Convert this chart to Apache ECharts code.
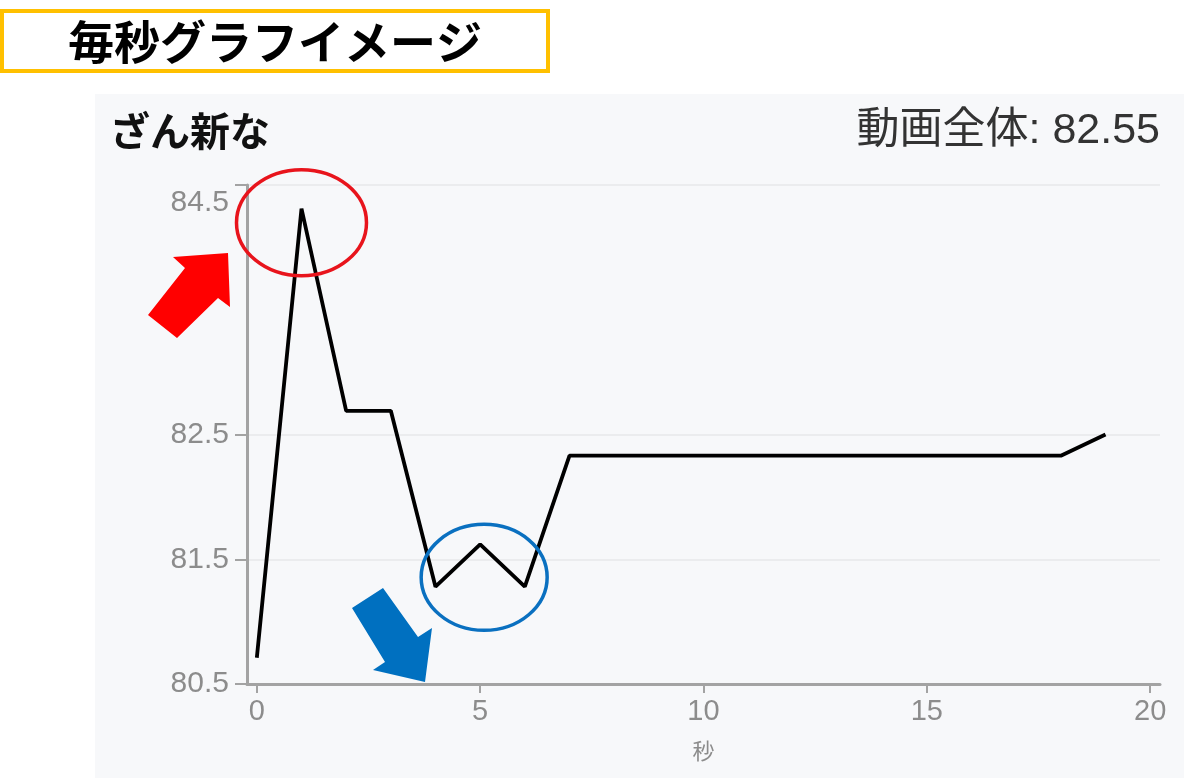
<!DOCTYPE html>
<html>
<head>
<meta charset="utf-8">
<script src="https://cdn.jsdelivr.net/npm/echarts@6/dist/echarts.min.js"></script>
<style>
html,body{margin:0;padding:0;background:#ffffff;}
#c{width:1184px;height:778px;}
</style>
</head>
<body>
<div id="c"></div>
<script>
// ---- data ----
const seconds = [0,1,2,3,4,5,6,7,8,9,10,11,12,13,14,15,16,17,18,19];
const scores  = [80.71,84.31,82.69,82.69,81.28,81.62,81.28,82.33,82.33,82.33,82.33,82.33,82.33,82.33,82.33,82.33,82.33,82.33,82.33,82.5];
const xTicks = [0,5,10,15,20];
const yTicks = [80.5,81.5,82.5,84.5];
const pageTitle = '毎秒グラフイメージ';
const chartTitle = 'ざん新な';
const overallLabel = '動画全体: 82.55';
const xName = '秒';

const chart = echarts.init(document.getElementById('c'));
const axisGray = '#a3a3a3';
const labelGray = '#8c8c8c';

const baseGraphics = [
  {id: 'panel', type: 'rect', z: -10, silent: true, shape: {x: 95, y: 94, width: 1089, height: 684}, style: {fill: '#f7f8fa'}},
  {id: 'titlebox', type: 'rect', shape: {x: 2, y: 11, width: 546, height: 60}, style: {fill: '#ffffff', stroke: '#ffc000', lineWidth: 4}},
  {id: 'titletext', type: 'text', x: 275, y: 42, style: {text: pageTitle, fill: '#000', font: 'bold 46px "Noto Sans CJK JP"', align: 'center', verticalAlign: 'middle'}},
  {id: 'ctitle', type: 'text', x: 110, y: 131, style: {text: chartTitle, fill: '#111', font: 'bold 40px "Noto Sans CJK JP"', align: 'left', verticalAlign: 'middle'}},
  {id: 'overall', type: 'text', x: 1160, y: 131, style: {text: overallLabel, fill: '#333', font: '43px "Liberation Sans", "Noto Sans CJK JP"', align: 'right', verticalAlign: 'middle'}},
  {id: 'redarrow', type: 'polygon', z: 10, shape: {points: [[148,315],[185,268],[173,257],[228,253],[230,307],[218,298],[177,338]]}, style: {fill: '#ff0000'}},
  {id: 'bluearrow', type: 'polygon', z: 10, shape: {points: [[352,608],[383,588],[418,637],[432,628],[425,682],[373,670],[385,662]]}, style: {fill: '#0070c0'}}
];

chart.setOption({
  animation: false,
  backgroundColor: '#ffffff',
  grid: {left: 247, right: 24, top: 185, bottom: 94},
  xAxis: {
    type: 'value', min: -0.22, max: 20.22,
    name: xName, nameLocation: 'middle', nameGap: 56,
    nameTextStyle: {color: labelGray, fontSize: 22, fontFamily: 'Noto Sans CJK JP'},
    axisLine: {show: true, onZero: false, lineStyle: {color: axisGray, width: 3}},
    axisTick: {show: true, length: 9, customValues: xTicks, lineStyle: {color: axisGray, width: 2}},
    axisLabel: {customValues: xTicks, color: labelGray, fontSize: 29, margin: 13, fontFamily: 'Liberation Sans, Noto Sans CJK JP'},
    splitLine: {show: false}
  },
  yAxis: {
    type: 'value', min: 80.5, max: 84.5,
    axisLine: {show: true, onZero: false, lineStyle: {color: axisGray, width: 3}},
    axisTick: {show: true, length: 12, customValues: yTicks, lineStyle: {color: axisGray, width: 2}},
    axisLabel: {
      customValues: yTicks, color: labelGray, fontSize: 30, margin: 18,
      fontFamily: 'Liberation Sans, Noto Sans CJK JP',
      formatter: function (v) { return v === 84.5 ? '{top|84.5}' : v.toFixed(1); },
      rich: {top: {color: labelGray, fontSize: 30, padding: [36, 0, 0, 0], fontFamily: 'Liberation Sans, Noto Sans CJK JP'}}
    },
    splitLine: {show: true, lineStyle: {color: '#ebecee', width: 2}}
  },
  series: [{
    type: 'line',
    data: seconds.map((s, i) => [s, scores[i]]),
    showSymbol: false,
    lineStyle: {color: '#000000', width: 3.8},
    z: 5
  }],
  graphic: baseGraphics
});

// annotation ellipses anchored to the data points
const peak = chart.convertToPixel({gridIndex: 0}, [seconds[1], scores[1]]);
const dip = chart.convertToPixel({gridIndex: 0}, [seconds[5], scores[5]]);
chart.setOption({
  graphic: baseGraphics.concat([
    {id: 'redring', type: 'ellipse', z: 10, shape: {cx: peak[0], cy: peak[1] + 14, rx: 65, ry: 53}, style: {fill: 'none', stroke: '#e8141c', lineWidth: 3.5}},
    {id: 'bluering', type: 'ellipse', z: 10, shape: {cx: dip[0] + 4, cy: dip[1] + 33, rx: 63, ry: 53}, style: {fill: 'none', stroke: '#0a70c0', lineWidth: 3.5}}
  ])
});
</script>
</body>
</html>
